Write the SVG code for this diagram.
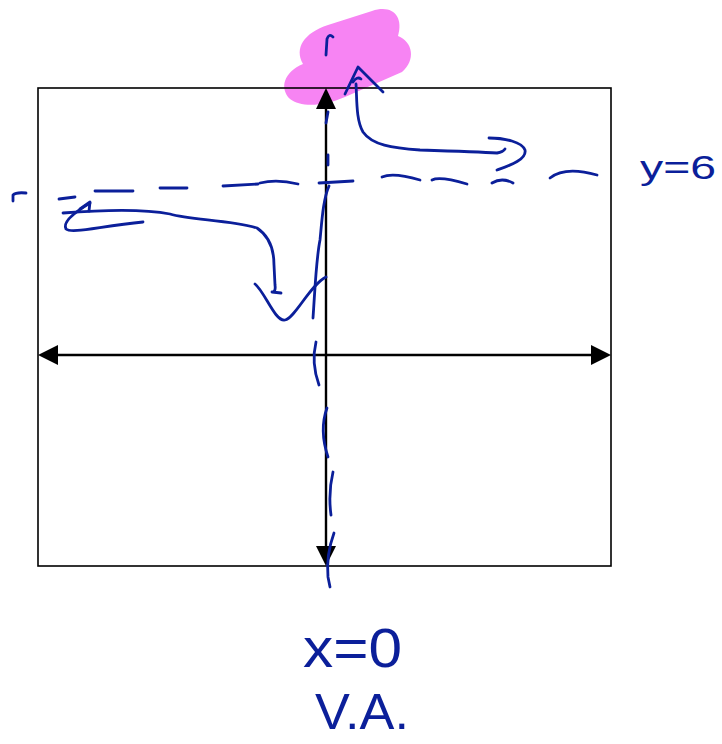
<svg xmlns="http://www.w3.org/2000/svg" width="722" height="744" viewBox="0 0 722 744">
  <style>
    .ink { fill: none; stroke: #0b1f9a; stroke-width: 2.8; stroke-linecap: round; stroke-linejoin: round; }
    .axis { stroke: #000; stroke-width: 2.4; fill: none; }
    .head { fill: #000; }
    .hand { font-family: "Liberation Sans", Arial, sans-serif; fill: #0b1f9a; }
  </style>
  <rect x="0" y="0" width="722" height="744" fill="#fff"/>

  <g id="highlight">
    <path d="M290,99 C 279,88 284,72 303,64 C 294,48 304,33 328,25 L 372,11 C 392,4 404,16 398,36 C 413,42 416,60 402,72 L 345,97 C 322,107 300,107 290,99 Z" fill="#f784f3"/>
  </g>

  <g id="frame">
    <rect x="38" y="88" width="573" height="478" fill="none" stroke="#000" stroke-width="1.6"/>
  </g>

  <g id="connectors">
    <line class="axis" x1="56" y1="355" x2="593" y2="355"/>
    <polygon class="head" points="38,355 58,345 58,365"/>
    <polygon class="head" points="611,355 591,345 591,365"/>
    <line class="axis" x1="326" y1="106" x2="326" y2="548"/>
    <polygon class="head" points="326,88 316,109 336,109"/>
    <polygon class="head" points="326,566 316,546 336,546"/>
  </g>

  <g id="sketch">
    <path class="ink" d="M326,55 L327,39 Q329,33 333,37"/>
    <path class="ink" d="M345,94 L358,67 L383,92"/>
    <path class="ink" d="M353,82 Q357,76 361,79"/>
    <path class="ink" d="M356,84 C 357,100 356,120 363,132 C 372,145 392,148 420,150 C 450,151 480,152 497,153 Q 503,152 505,149"/>
    <path class="ink" d="M489,138 C 505,138 522,142 525,150 C 527,160 508,166 497,170"/>
    <path class="ink" d="M13,201 L13,195 Q16,192 26,193"/>
    <path class="ink" d="M59,199 L75,197"/>
    <path class="ink" d="M95,191 L133,191"/>
    <path class="ink" d="M160,188 L187,188"/>
    <path class="ink" d="M223,186 L258,184"/>
    <path class="ink" d="M260,183 Q277,179 298,184"/>
    <path class="ink" d="M319,183 L353,181"/>
    <path class="ink" d="M382,177 Q393,172 420,180"/>
    <path class="ink" d="M432,180 Q440,176 467,184"/>
    <path class="ink" d="M492,183 Q502,177 513,183"/>
    <path class="ink" d="M550,178 Q565,166 597,175"/>
    <path class="ink" d="M328,112 L326,123"/>
    <path class="ink" d="M328,155 L328,165"/>
    <path class="ink" d="M329,186 C 323,200 322,220 320,240 C 316,260 315,290 313,318"/>
    <path class="ink" d="M316,342 Q311,363 319,385"/>
    <path class="ink" d="M327,408 Q319,430 328,457"/>
    <path class="ink" d="M333,472 Q328,493 331,515"/>
    <path class="ink" d="M334,533 Q326,555 328,577 L330,587"/>
    <path class="ink" d="M63,213 C 100,210 140,208 170,214 C 190,220 230,220 257,228 C 272,238 274,255 274,265 L 275,285 Q 276,292 272,292 L 281,293"/>
    <path class="ink" d="M80,209 L90,202 L89,211"/>
    <path class="ink" d="M90,203 C 75,212 62,222 66,229 C 72,234 100,226 143,222"/>
    <path class="ink" d="M255,284 C 265,292 275,322 285,320 C 295,318 310,285 326,277"/>
  </g>

  <g id="labels">
    <text class="hand" x="640" y="179" font-size="33" textLength="76" lengthAdjust="spacingAndGlyphs">y=6</text>
    <text class="hand" x="303" y="667" font-size="56" textLength="99" lengthAdjust="spacingAndGlyphs">x=0</text>
    <text class="hand" x="315" y="729" font-size="50" textLength="94" lengthAdjust="spacingAndGlyphs">V.A.</text>
  </g>
</svg>
